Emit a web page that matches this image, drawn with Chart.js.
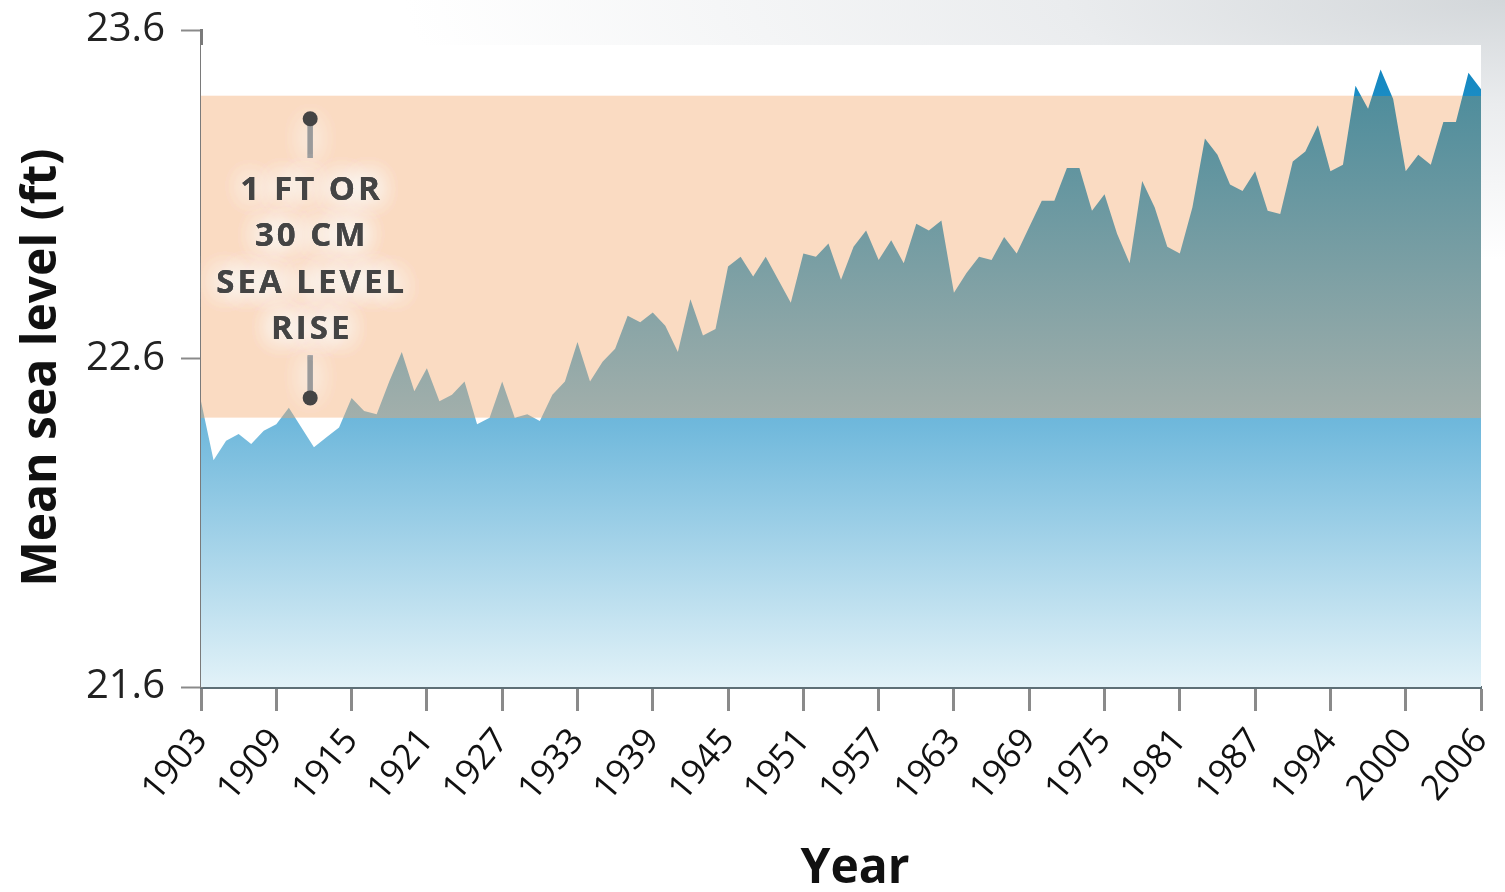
<!DOCTYPE html>
<html>
<head>
<meta charset="utf-8">
<script src="https://cdn.jsdelivr.net/npm/chart.js@4.4.1/dist/chart.umd.min.js"></script>
<style>
    html, body { margin: 0; padding: 0; }
    body {
        width: 1505px; height: 892px; overflow: hidden;
        background: radial-gradient(ellipse 1100px 260px at 100% 0%, #d3d7da 0%, #eaecee 40%, #ffffff 100%);
    }
</style>
</head>
<body>
<canvas id="seaChart" width="1505" height="892"></canvas>
<script>
// Years on the x axis (one year between 1987 and 1994 is absent from the record)
const years = [
    1903, 1904, 1905, 1906, 1907, 1908, 1909, 1910, 1911, 1912,
    1913, 1914, 1915, 1916, 1917, 1918, 1919, 1920, 1921, 1922,
    1923, 1924, 1925, 1926, 1927, 1928, 1929, 1930, 1931, 1932,
    1933, 1934, 1935, 1936, 1937, 1938, 1939, 1940, 1941, 1942,
    1943, 1944, 1945, 1946, 1947, 1948, 1949, 1950, 1951, 1952,
    1953, 1954, 1955, 1956, 1957, 1958, 1959, 1960, 1961, 1962,
    1963, 1964, 1965, 1966, 1967, 1968, 1969, 1970, 1971, 1972,
    1973, 1974, 1975, 1976, 1977, 1978, 1979, 1980, 1981, 1982,
    1983, 1984, 1985, 1986, 1987, 1988, 1989, 1991, 1992, 1993,
    1994, 1995, 1996, 1997, 1998, 1999, 2000, 2001, 2002, 2003,
    2004, 2005, 2006
];

// Mean sea level (ft)
const seaLevel = [
    22.47, 22.29, 22.35, 22.37, 22.34, 22.38, 22.40, 22.45, 22.39, 22.33,
    22.36, 22.39, 22.48, 22.44, 22.43, 22.53, 22.62, 22.50, 22.57, 22.47,
    22.49, 22.53, 22.40, 22.42, 22.53, 22.42, 22.43, 22.41, 22.49, 22.53,
    22.65, 22.53, 22.59, 22.63, 22.73, 22.71, 22.74, 22.70, 22.62, 22.78,
    22.67, 22.69, 22.88, 22.91, 22.85, 22.91, 22.84, 22.77, 22.92, 22.91,
    22.95, 22.84, 22.94, 22.99, 22.90, 22.96, 22.89, 23.01, 22.99, 23.02,
    22.80, 22.86, 22.91, 22.90, 22.97, 22.92, 23.00, 23.08, 23.08, 23.18,
    23.18, 23.05, 23.10, 22.98, 22.89, 23.14, 23.06, 22.94, 22.92, 23.06,
    23.27, 23.22, 23.13, 23.11, 23.17, 23.05, 23.04, 23.20, 23.23, 23.31,
    23.17, 23.19, 23.43, 23.36, 23.48, 23.39, 23.17, 23.22, 23.19, 23.32,
    23.32, 23.47, 23.42
];

const yTicks = [21.6, 22.6, 23.6];
const tickStep = 6;                       // every 6th year gets a label
const riseBand = [22.42, 23.40];          // the "1 ft" band
const riseLabel = ['1 FT OR', '30 CM', 'SEA LEVEL', 'RISE'];
const riseMarker = { index: 8.7, top: 23.33, topEnd: 23.21, bottom: 22.48, bottomEnd: 22.61, text: 23.112 };

const seaFill = (context) => {
    const { ctx, chartArea, scales } = context.chart;
    if (!chartArea) return '#6cb7dc';
    const h = chartArea.bottom - chartArea.top;
    const bTop = (scales.y.getPixelForValue(riseBand[1]) - chartArea.top) / h;
    const bBot = (scales.y.getPixelForValue(riseBand[0]) - chartArea.top) / h;
    const g = ctx.createLinearGradient(0, chartArea.top, 0, chartArea.bottom);
    g.addColorStop(0, '#0a7fbc');
    g.addColorStop(bTop, '#1a8cc4');
    g.addColorStop(bTop, '#4f8d9c');
    g.addColorStop(bBot, '#a2afab');
    g.addColorStop(bBot, '#6db7db');
    g.addColorStop(1, '#e2f2f8');
    return g;
};

// White plot box and the peach band behind the data
const bandPlugin = {
    id: 'band',
    beforeDatasetsDraw(chart) {
        const { ctx, chartArea, scales } = chart;
        ctx.save();
        ctx.fillStyle = '#ffffff';
        ctx.fillRect(chartArea.left, chartArea.top + 15, chartArea.right - chartArea.left, chartArea.bottom - chartArea.top - 15);
        const y1 = scales.y.getPixelForValue(riseBand[1]);
        const y0 = scales.y.getPixelForValue(riseBand[0]);
        ctx.fillStyle = '#fadbc2';
        ctx.fillRect(chartArea.left, y1, chartArea.right - chartArea.left, y0 - y1);
        ctx.restore();
    }
};

// Annotation + axis titles
const labelPlugin = {
    id: 'labels',
    afterDatasetsDraw(chart) {
        const { ctx, scales } = chart;
        const x = scales.x.getPixelForValue(riseMarker.index);
        const yTop = scales.y.getPixelForValue(riseMarker.top);
        const yTopEnd = scales.y.getPixelForValue(riseMarker.topEnd);
        const yBot = scales.y.getPixelForValue(riseMarker.bottom);
        const yBotEnd = scales.y.getPixelForValue(riseMarker.bottomEnd);
        const yText = scales.y.getPixelForValue(riseMarker.text);

        ctx.save();
        ctx.shadowColor = 'rgba(255,255,255,0.95)';
        ctx.shadowBlur = 26;
        ctx.strokeStyle = '#9a9a9a';
        ctx.lineWidth = 5;
        for (let k = 0; k < 3; k++) {
            ctx.beginPath();
            ctx.moveTo(x, yTop); ctx.lineTo(x, yTopEnd);
            ctx.moveTo(x, yBotEnd); ctx.lineTo(x, yBot);
            ctx.stroke();
        }
        ctx.font = 'bold 33px "Open Sans"';
        ctx.letterSpacing = '3px';
        ctx.textAlign = 'center';
        ctx.textBaseline = 'middle';
        ctx.fillStyle = '#444444';
        for (let k = 0; k < 4; k++) {
            riseLabel.forEach((line, i) => ctx.fillText(line, x + 1.5, yText + i * 46.5));
        }
        ctx.shadowBlur = 0;
        ctx.fillStyle = '#444444';
        [yTop, yBot].forEach(yy => {
            ctx.beginPath();
            ctx.arc(x, yy, 7.5, 0, Math.PI * 2);
            ctx.fill();
        });
        ctx.restore();
    },
    afterDraw(chart) {
        const { ctx, chartArea } = chart;
        ctx.save();
        ctx.fillStyle = '#111111';
        ctx.font = 'bold 48px "Open Sans"';
        ctx.textAlign = 'center';
        ctx.textBaseline = 'middle';
        ctx.fillText('Year', (chartArea.left + chartArea.right) / 2 + 14, 869);
        ctx.translate(42, (chartArea.top + chartArea.bottom) / 2 + 9);
        ctx.rotate(-Math.PI / 2);
        ctx.fillText('Mean sea level (ft)', 0, 0);
        ctx.restore();
    }
};

const seaCtx = document.getElementById('seaChart').getContext('2d');
const seaChart = new Chart(seaCtx, {
    type: 'line',
    data: {
        labels: years,
        datasets: [
            {
                label: 'Mean sea level',
                data: seaLevel,
                backgroundColor: seaFill,
                borderColor: 'rgba(0,0,0,0)',
                borderWidth: 0,
                pointRadius: 0,
                tension: 0,
                fill: 'start',
            },
        ],
    },
    options: {
        responsive: false,
        animation: false,
        layout: { padding: { top: 30, right: 24, left: 0, bottom: 0 } },
        plugins: {
            legend: { display: false },
            tooltip: { enabled: false },
        },
        scales: {
            x: {
                type: 'category',
                offset: false,
                border: { display: true, color: '#5e6f76', width: 3 },
                grid: { drawOnChartArea: false, drawTicks: true, tickLength: 24, tickColor: '#8a8a8a', tickWidth: 3 },
                ticks: {
                    autoSkip: false,
                    minRotation: 50,
                    maxRotation: 50,
                    padding: 10,
                    color: '#111111',
                    font: { family: 'Open Sans', size: 35 },
                },
                afterBuildTicks: (scale) => {
                    scale.ticks = scale.ticks.filter(t => t.value % tickStep === 0);
                },
                afterFit: (scale) => {
                    scale.height = 205;
                    scale.paddingLeft = 0;
                    scale.paddingRight = 0;
                },
            },
            y: {
                min: yTicks[0],
                max: yTicks[yTicks.length - 1],
                border: { display: true, color: '#7a7a7a', width: 3 },
                grid: { drawOnChartArea: false, drawTicks: true, tickLength: 20, tickColor: '#8a8a8a', tickWidth: 2 },
                ticks: {
                    padding: 16,
                    color: '#222222',
                    font: { family: 'Open Sans', size: 40 },
                    callback: (v) => Number(v).toFixed(1),
                },
                afterBuildTicks: (scale) => {
                    scale.ticks = yTicks.map(v => ({ value: v }));
                },
                afterFit: (scale) => {
                    scale.width = 201;
                    scale.paddingTop = 0;
                    scale.paddingBottom = 0;
                },
            },
        },
    },
    plugins: [bandPlugin, labelPlugin],
});
</script>
</body>
</html>
